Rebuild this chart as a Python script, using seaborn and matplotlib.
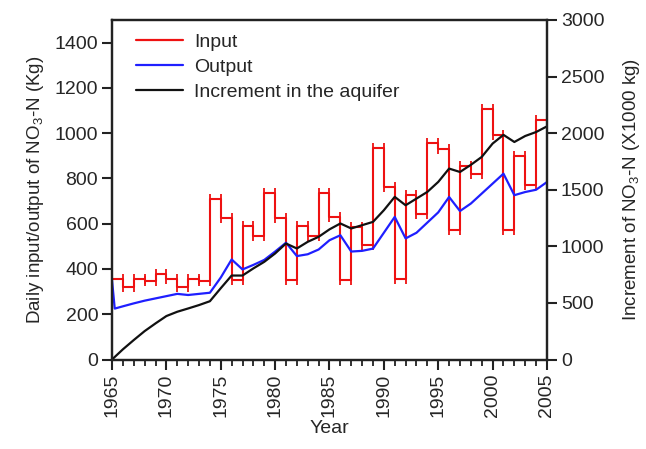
import matplotlib
matplotlib.use("Agg")
import matplotlib.pyplot as plt
from matplotlib.lines import Line2D
from matplotlib.ticker import MultipleLocator
import numpy as np
import pandas as pd
import seaborn as sns

# Yearly NO3-N input to the aquifer (kg/day), one value per year 1965-2004
input_years = list(range(1965, 2005))
input_kg = [356, 321, 356, 346, 376, 356, 321, 356, 346, 711,
            627, 351, 589, 545, 735, 627, 351, 589, 545, 735,
            630, 352, 587, 508, 936, 762, 354, 729, 645, 955,
            931, 574, 854, 821, 1105, 990, 574, 898, 773, 1056]

# Simulated NO3-N output (kg/day)
output_years = [1965.0, 1965.25, 1966, 1967, 1968, 1969, 1970, 1971, 1972, 1973,
                1974, 1975, 1976, 1977, 1978, 1979, 1980, 1981, 1982, 1983,
                1984, 1985, 1986, 1987, 1988, 1989, 1990, 1991, 1992, 1993,
                1994, 1995, 1996, 1997, 1998, 1999, 2000, 2001, 2002, 2003,
                2004, 2005]
output_kg = [350, 225, 235, 248, 260, 270, 280, 290, 285, 290,
             295, 362, 442, 398, 418, 440, 477, 516, 457, 465,
             486, 527, 549, 477, 480, 490, 560, 630, 535, 560,
             605, 650, 718, 656, 689, 733, 777, 821, 726, 740,
             750, 784]

# Cumulative increment of NO3-N stored in the aquifer (x1000 kg)
increment_years = list(range(1965, 2006))
increment_kt = [0, 90, 172, 251, 319, 384, 422, 451, 481, 515,
                630, 742, 742, 805, 863, 937, 1025, 981, 1040, 1084,
                1150, 1202, 1158, 1187, 1216, 1319, 1437, 1363, 1422, 1481,
                1569, 1687, 1657, 1720, 1790, 1908, 1985, 1922, 1975, 2010,
                2060]

left_ticks = [0, 200, 400, 600, 800, 1000, 1200, 1400]
right_ticks = [0, 500, 1000, 1500, 2000, 2500, 3000]
year_ticks = list(range(1965, 2006, 5))

sns.set_style("ticks")
plt.rcParams["font.family"] = ["Liberation Sans", "DejaVu Sans"]
plt.rcParams["mathtext.fontset"] = "custom"
plt.rcParams["mathtext.rm"] = "Liberation Sans"
plt.rcParams["mathtext.it"] = "Liberation Sans:italic"
plt.rcParams["mathtext.default"] = "regular"

FS = 14
RED, BLUE, BLACK = "#ee1111", "#1f1fff", "#111111"
fig = plt.figure(figsize=(6.46, 4.49), dpi=100)
ax = fig.add_axes([0.1734, 0.1993, 0.6733, 0.7562])
ax2 = ax.twinx()

# Input: stepwise yearly values, the last year held until 2005
step_df = pd.DataFrame({"year": input_years + [2005],
                        "kg": input_kg + [input_kg[-1]]})
sns.lineplot(data=step_df, x="year", y="kg", ax=ax, color=RED,
             lw=1.5, drawstyle="steps-post", estimator=None, sort=False)
# small end caps at both ends of every yearly step
cap_x = np.concatenate([np.array(input_years), np.array(input_years) + 1])
cap_y = np.concatenate([input_kg, input_kg])
ax.plot(cap_x, cap_y, ls="none", marker="|", ms=7.5, mew=1.3, color=RED)

out_df = pd.DataFrame({"year": output_years, "kg": output_kg})
sns.lineplot(data=out_df, x="year", y="kg", ax=ax, color=BLUE,
             lw=1.6, estimator=None, sort=False)

inc_df = pd.DataFrame({"year": increment_years, "kt": increment_kt})
sns.lineplot(data=inc_df, x="year", y="kt", ax=ax2, color=BLACK,
             lw=1.6, estimator=None, sort=False)

ax.set_xlim(1965, 2005)
ax.set_ylim(0, 1500)
ax2.set_ylim(0, 3000)
ax.set_xticks(year_ticks)
ax.set_xticklabels([str(y) for y in year_ticks], rotation=90, fontsize=FS)
ax.xaxis.set_minor_locator(MultipleLocator(1))
ax.set_yticks(left_ticks)
ax.set_yticklabels([str(v) for v in left_ticks], fontsize=FS)
ax2.set_yticks(right_ticks)
ax2.set_yticklabels([str(v) for v in right_ticks], fontsize=FS)

ax.set_xlabel("Year", fontsize=FS, labelpad=2)
ax.set_ylabel("Daily input/output of NO$_3$-N (Kg)", fontsize=13.5, labelpad=6)
ax2.set_ylabel("Increment of NO$_3$-N (X1000 kg)", fontsize=13.5, labelpad=12)

for a in (ax, ax2):
    for s in a.spines.values():
        s.set_visible(True)
        s.set_linewidth(1.6)
        s.set_color("#222222")
ax.tick_params(axis="both", which="major", direction="out", length=7, width=1.5,
               color="#222222", pad=3)
ax.tick_params(axis="x", which="minor", direction="out", length=4, width=1.3,
               color="#222222")
ax.tick_params(axis="y", which="minor", left=False)
ax.tick_params(top=False, right=False)
ax2.tick_params(axis="y", which="major", direction="out", length=7, width=1.5,
                color="#222222", pad=3)

handles = [Line2D([], [], color=RED, lw=1.6),
           Line2D([], [], color=BLUE, lw=1.6),
           Line2D([], [], color=BLACK, lw=1.6)]
ax.legend(handles, ["Input", "Output", "Increment in the aquifer"],
          loc="upper left", frameon=False, fontsize=FS, handlelength=2.4,
          handletextpad=0.6, labelspacing=0.38, borderaxespad=0.5,
          bbox_to_anchor=(0.015, 1.012))

fig.savefig("out.png", dpi=100)
